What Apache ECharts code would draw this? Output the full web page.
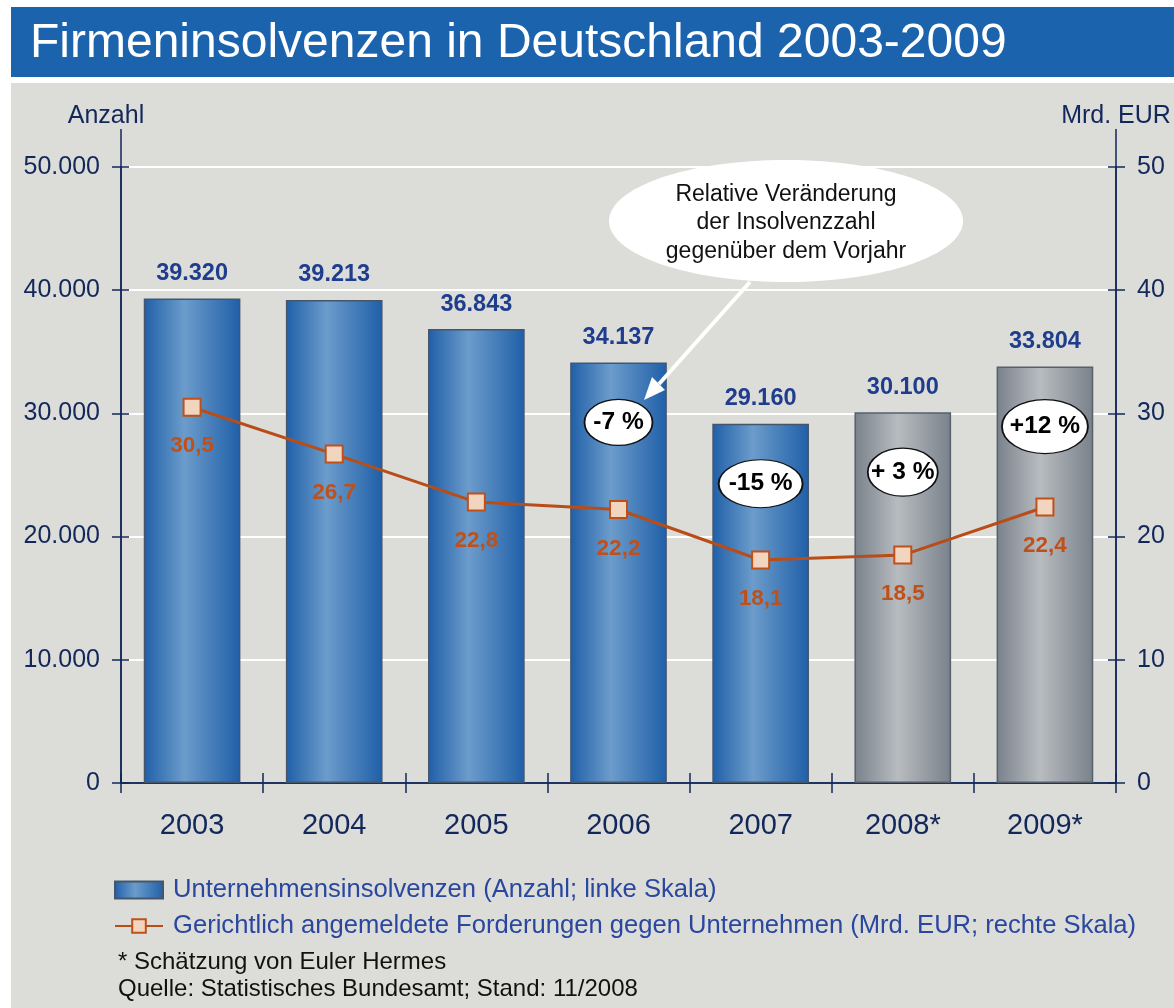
<!DOCTYPE html>
<html>
<head>
<meta charset="utf-8">
<title>Firmeninsolvenzen in Deutschland 2003-2009</title>
<script src="https://cdn.jsdelivr.net/npm/echarts@6/dist/echarts.min.js"></script>
<style>
  html, body { margin: 0; padding: 0; background: #ffffff; }
  #chart { width: 1174px; height: 1008px; }
</style>
</head>
<body>
<div id="chart"></div>
<script>
// Daten
const years = ['2003', '2004', '2005', '2006', '2007', '2008*', '2009*']
const insolvencies = [39320, 39213, 36843, 34137, 29160, 30100, 33804]
const claims = [30.5, 26.7, 22.8, 22.2, 18.1, 18.5, 22.4]
const changeLabels = ['', '', '', '-7 %', '-15 %', '+ 3 %', '+12 %']
const estimated = [false, false, false, false, false, true, true]
const leftTicks = [0, 10000, 20000, 30000, 40000, 50000]
const rightTicks = [0, 10, 20, 30, 40, 50]

const FONT = 'Arial, "Liberation Sans", sans-serif'
const axisColor = '#12275a'

// Tausenderpunkt, Dezimalkomma
const fmtInt = (v) => String(v).replace(/\B(?=(\d{3})+(?!\d))/g, '.')
const fmtDec = (v) => v.toFixed(1).replace('.', ',')

const blueGrad = new echarts.graphic.LinearGradient(0, 0, 1, 0, [
  { offset: 0, color: '#1f5fa8' },
  { offset: 0.42, color: '#6c9ccb' },
  { offset: 1, color: '#1f5fa8' }
])
const grayGrad = new echarts.graphic.LinearGradient(0, 0, 1, 0, [
  { offset: 0, color: '#79818b' },
  { offset: 0.45, color: '#b8bcc0' },
  { offset: 1, color: '#79818b' }
])

// Ellipsengrößen der Veränderungs-Labels
const ellipseSize = { '-7 %': [68, 46], '-15 %': [84, 48], '+ 3 %': [70, 48], '+12 %': [86, 54] }

const chart = echarts.init(document.getElementById('chart'), null, { renderer: 'canvas' })

const tickStyle = { color: axisColor, width: 1.5 }
const barName = 'Unternehmensinsolvenzen (Anzahl; linke Skala)'
const lineName = 'Gerichtlich angemeldete Forderungen gegen Unternehmen (Mrd. EUR; rechte Skala)'

// Hilfsachse nur für die nach innen zeigenden Ticks (Kreuz-Ticks wie im Original)
const innerTickAxis = (position, ticks) => ({
  type: 'value',
  position,
  offset: 0,
  min: ticks[0],
  max: ticks[ticks.length - 1],
  interval: ticks[1] - ticks[0],
  axisLine: { show: true, lineStyle: { color: axisColor, width: 1.5 } },
  axisTick: { show: true, inside: true, length: 8, lineStyle: tickStyle },
  axisLabel: { show: false },
  splitLine: { show: false },
  z: 5
})

chart.setOption({
  backgroundColor: '#ffffff',
  textStyle: { fontFamily: FONT },
  graphic: [
    // Titelbalken und Hintergrund
    { type: 'rect', shape: { x: 11, y: 7, width: 1163, height: 70 }, style: { fill: '#1b63ad' }, z: -10 },
    { type: 'rect', shape: { x: 11, y: 83, width: 1163, height: 925 }, style: { fill: '#dcdcd8' }, z: -10 },
    {
      type: 'text', left: 30, top: 20, z: 10,
      style: { text: 'Firmeninsolvenzen in Deutschland 2003-2009', fill: '#ffffff', font: '48px ' + FONT }
    },
    // Achsenverlängerung über 50
    { type: 'line', shape: { x1: 121, y1: 129, x2: 121, y2: 168 }, style: { stroke: axisColor, lineWidth: 1.5 }, z: 5 },
    { type: 'line', shape: { x1: 1116, y1: 129, x2: 1116, y2: 168 }, style: { stroke: axisColor, lineWidth: 1.5 }, z: 5 },
    // Sprechblase
    { type: 'ellipse', shape: { cx: 786, cy: 221, rx: 177, ry: 61 }, style: { fill: '#ffffff' }, z: 20 },
    { type: 'line', shape: { x1: 750, y1: 282, x2: 659, y2: 384 }, style: { stroke: '#ffffff', lineWidth: 4 }, z: 20 },
    { type: 'polygon', shape: { points: [[644, 400], [665, 390], [652, 377]] }, style: { fill: '#ffffff' }, z: 20 },
    {
      type: 'text', x: 786, y: 223, z: 21,
      style: {
        text: 'Relative Veränderung\nder Insolvenzzahl\ngegenüber dem Vorjahr',
        fill: '#111111', font: '23px ' + FONT, align: 'center', verticalAlign: 'middle', lineHeight: 28.5
      }
    },
    // Fußnoten
    { type: 'text', left: 118, top: 950, style: { text: '* Schätzung von Euler Hermes', fill: '#111111', font: '24px ' + FONT } },
    { type: 'text', left: 118, top: 977, style: { text: 'Quelle: Statistisches Bundesamt; Stand: 11/2008', fill: '#111111', font: '24px ' + FONT } }
  ],
  grid: { left: 121, right: 58, top: 167, bottom: 225 },
  legend: {
    orient: 'vertical',
    left: 109,
    top: 872,
    itemWidth: 48,
    itemHeight: 17,
    itemGap: 10,
    selectedMode: false,
    textStyle: { fontSize: 25.6, color: '#2a47a0', fontFamily: FONT, padding: [0, 0, 0, 5] },
    data: [
      { name: barName, icon: 'rect' },
      { name: lineName }
    ]
  },
  xAxis: [
    {
      type: 'category',
      data: years,
      axisLine: { show: true, lineStyle: tickStyle },
      axisTick: { show: true, length: 10, lineStyle: tickStyle },
      axisLabel: { fontSize: 29, color: axisColor, margin: 28 }
    },
    {
      type: 'category',
      data: years,
      position: 'bottom',
      offset: 0,
      axisLine: { show: true, lineStyle: tickStyle },
      axisTick: { show: true, inside: true, length: 10, lineStyle: tickStyle },
      axisLabel: { show: false }
    }
  ],
  yAxis: [
    {
      type: 'value',
      position: 'left',
      min: leftTicks[0],
      max: leftTicks[leftTicks.length - 1],
      interval: leftTicks[1] - leftTicks[0],
      name: 'Anzahl',
      nameLocation: 'end',
      nameGap: 38,
      nameTextStyle: { fontSize: 25, color: axisColor, align: 'center', padding: [0, 30, 0, 0] },
      axisLine: { show: true, lineStyle: tickStyle },
      axisTick: { show: true, length: 9, lineStyle: tickStyle },
      axisLabel: { fontSize: 25, color: axisColor, margin: 21, formatter: fmtInt },
      splitLine: { show: true, lineStyle: { color: '#ffffff', width: 2 } }
    },
    {
      type: 'value',
      position: 'right',
      min: rightTicks[0],
      max: rightTicks[rightTicks.length - 1],
      interval: rightTicks[1] - rightTicks[0],
      name: 'Mrd. EUR',
      nameLocation: 'end',
      nameGap: 38,
      nameTextStyle: { fontSize: 25, color: axisColor, align: 'center' },
      axisLine: { show: true, lineStyle: tickStyle },
      axisTick: { show: true, length: 9, lineStyle: tickStyle },
      axisLabel: { fontSize: 25, color: axisColor, margin: 21 },
      splitLine: { show: false }
    },
    innerTickAxis('left', leftTicks),
    innerTickAxis('right', rightTicks)
  ],
  series: [
    {
      name: barName,
      type: 'bar',
      yAxisIndex: 0,
      barWidth: '68%',
      itemStyle: { color: blueGrad, borderColor: '#46566a', borderWidth: 1.5 },
      data: insolvencies.map((v, i) => estimated[i]
        ? { value: v, itemStyle: { color: grayGrad, borderColor: '#56606c' } }
        : v),
      label: {
        show: true,
        position: 'top',
        distance: 13,
        fontSize: 23.5,
        fontWeight: 'bold',
        color: '#1f3d8f',
        formatter: (p) => fmtInt(p.value)
      },
      z: 2
    },
    {
      name: lineName,
      type: 'line',
      yAxisIndex: 1,
      data: claims,
      symbol: 'rect',
      symbolSize: 17,
      lineStyle: { color: '#b84d18', width: 3 },
      itemStyle: { color: '#f2d5bf', borderColor: '#c0501a', borderWidth: 2 },
      label: {
        show: true,
        position: 'bottom',
        distance: 18,
        fontSize: 22.5,
        fontWeight: 'bold',
        color: '#c0501a',
        formatter: (p) => fmtDec(p.value)
      },
      z: 4
    },
    {
      name: 'Veränderung',
      type: 'scatter',
      yAxisIndex: 0,
      data: insolvencies.map((v, i) => changeLabels[i] ? v : '-'),
      symbol: 'circle',
      symbolSize: (val, p) => ellipseSize[changeLabels[p.dataIndex]] || 0,
      symbolOffset: [0, 60],
      itemStyle: { color: '#ffffff', borderColor: '#111111', borderWidth: 1.5, opacity: 1 },
      label: {
        show: true,
        position: 'inside',
        fontSize: 24.5,
        fontWeight: 'bold',
        color: '#000000',
        formatter: (p) => changeLabels[p.dataIndex]
      },
      z: 6
    },
    // leere Serien, damit die Hilfsachsen gezeichnet werden
    { type: 'line', xAxisIndex: 1, yAxisIndex: 2, data: [], silent: true },
    { type: 'line', xAxisIndex: 1, yAxisIndex: 3, data: [], silent: true }
  ]
})
</script>
</body>
</html>
